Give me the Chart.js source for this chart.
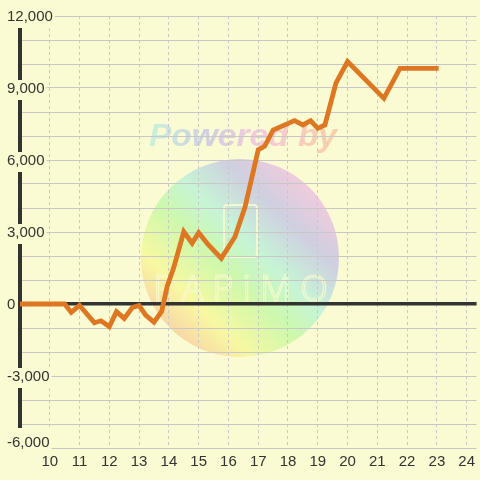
<!DOCTYPE html>
<html>
<head>
<meta charset="utf-8">
<script src="https://cdn.jsdelivr.net/npm/chart.js@4/dist/chart.umd.min.js"></script>
<style>
  html,body{margin:0;padding:0;background:#fbfbd3;}
  canvas{display:block;}
</style>
</head>
<body>
<canvas id="c" width="480" height="480"></canvas>
<script>
// series (x = hour-ish position, y = value)
const xValues = [9, 10.5, 10.72, 11.0, 11.5, 11.72, 12.0, 12.24, 12.5, 12.78, 13.0, 13.22, 13.5, 13.76, 13.94, 14.17, 14.5, 14.78, 15.0, 15.33, 15.76, 16.22, 16.56, 17.0, 17.22, 17.5, 18.22, 18.5, 18.76, 19.0, 19.24, 19.61, 20.0, 21.22, 21.76, 23.06];
const yValues = [0, 0, -350, -60, -780, -700, -940, -320, -600, -140, -60, -460, -760, -300, 720, 1550, 3010, 2530, 2970, 2460, 1900, 2800, 4050, 6420, 6580, 7250, 7640, 7460, 7640, 7320, 7460, 9200, 10100, 8570, 9820, 9820];
const xTicks = [10,11,12,13,14,15,16,17,18,19,20,21,22,23,24];
const yLabelStep = 3000;

const BG = '#fbfbd3';
const FONT = '"Liberation Sans", Arial, sans-serif';

// background + watermark
const watermark = {
  id:'watermark',
  beforeDraw(chart){
    // lift the bottom y label a bit so it sits above the x labels
    const items = chart.scales.y.getLabelItems();
    items.forEach(it=>{
      it.options.translation[1] += 1;
      if(it.options.backdrop) it.options.backdrop.top += 1;
      if(it.label === '-6,000'){
        it.options.translation[1] -= 6;
        if(it.options.backdrop){
          it.options.backdrop.top -= 6;
          it.options.backdrop.height += 6;
        }
      }
    });

    const c = chart.ctx;
    c.save();
    c.fillStyle = BG;
    c.fillRect(0,0,chart.width,chart.height);

    // gradient disc
    const g = c.createLinearGradient(165,335,315,180);
    g.addColorStop(0,'#f8cfa6');
    g.addColorStop(0.2,'#f8f8a2');
    g.addColorStop(0.42,'#cdf8ad');
    g.addColorStop(0.58,'#c6f4d6');
    g.addColorStop(0.78,'#cfcfe0');
    g.addColorStop(1,'#f8cadb');
    c.fillStyle = g;
    c.beginPath();
    c.arc(240,258,99,0,Math.PI*2);
    c.fill();

    // logo outline
    c.strokeStyle = 'rgba(250,250,205,0.85)';
    c.lineWidth = 2;
    c.beginPath();
    c.roundRect(224,205,33,52,3);
    c.stroke();
    c.font = '300 36px "Noto Sans", sans-serif';
    c.letterSpacing = '9px';
    c.textAlign = 'center';
    c.textBaseline = 'alphabetic';
    c.lineWidth = 1.2;
    c.strokeText('PAPiMO',245,301);

    // Powered by
    c.letterSpacing = '0px';
    c.font = 'italic bold 32px ' + FONT;
    const w = c.measureText('Powered by').width;
    const s = 188 / w;
    c.translate(149,146);
    c.scale(s,1);
    const tg = c.createLinearGradient(0,0,w,0);
    tg.addColorStop(0,'#c8f2dc');
    tg.addColorStop(0.3,'#cfd0e2');
    tg.addColorStop(0.6,'#f6cadb');
    tg.addColorStop(1,'#f8cfa6');
    c.fillStyle = tg;
    c.textAlign = 'left';
    c.fillText('Powered by',0,0);
    c.restore();
  }
};

new Chart(document.getElementById('c'),{
  type:'line',
  data:{
    datasets:[{
      data:xValues.map((x,i)=>({x, y:yValues[i]})),
      borderColor:'#dd7722',
      borderWidth:4.8,
      pointRadius:0,
      tension:0,
      fill:false
    }]
  },
  options:{
    responsive:false,
    animation:false,
    devicePixelRatio:1,
    layout:{padding:{top:16,left:0,right:0,bottom:0}},
    plugins:{legend:{display:false},tooltip:{enabled:false}},
    scales:{
      x:{
        type:'linear',
        min:9,
        max:24.333,
        afterBuildTicks:s=>{ s.ticks = xTicks.map(v=>({value:v})); },
        afterFit:s=>{ s.height = 32; },
        border:{display:false,dash:[3,3]},
        grid:{color:'#c8c8c8',lineWidth:1,drawTicks:false},
        ticks:{
          autoSkip:false,
          padding:5,
          color:'#333',
          font:{family:FONT,size:15},
          maxRotation:0
        }
      },
      y:{
        min:-6000,
        max:12000,
        afterFit:s=>{ s.width = 20; },
        border:{display:true,color:'#333',width:4},
        grid:{
          drawTicks:false,
          color:c=>c.tick && c.tick.value===0 ? '#333' : '#c8c8c8',
          lineWidth:c=>c.tick && c.tick.value===0 ? 3.5 : 1
        },
        ticks:{
          stepSize:1000,
          autoSkip:false,
          mirror:true,
          padding:-13,
          color:'#333',
          font:{family:FONT,size:15},
          callback:v=> v % yLabelStep === 0 ? v.toLocaleString('en-US') : '',
          showLabelBackdrop:c=>c.tick.value % yLabelStep === 0,
          backdropColor:BG,
          backdropPadding:{left:2,right:2,top:1,bottom:1}
        }
      }
    }
  },
  plugins:[watermark]
});
</script>
</body>
</html>
